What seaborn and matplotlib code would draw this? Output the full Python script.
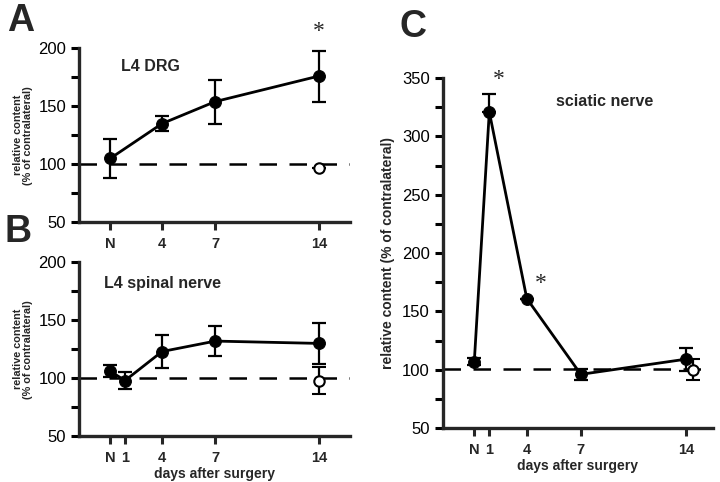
import numpy as np
import matplotlib
matplotlib.use("Agg")
import matplotlib.pyplot as plt
from matplotlib.ticker import MultipleLocator
import seaborn as sns

# Dữ liệu
day_labels = ["N", "1", "4", "7", "14"]
day_pos = [-0.1, 0.9, 3.4, 7, 14]

drg_days = ["N", "4", "7", "14"]
drg_mean = [105, 135, 154, 176]
drg_err_low = [17, 6.5, 19, 22]
drg_err_high = [17, 6.5, 19, 22]
drg_ctrl_mean = [97]
drg_ctrl_err = [0]

spinal_days = ["N", "1", "4", "7", "14"]
spinal_mean = [106, 98, 123, 132, 130]
spinal_err_low = [5, 7, 14, 13, 18]
spinal_err_high = [5, 7, 14, 13, 18]
spinal_ctrl_mean = [98]
spinal_ctrl_err = [12]

sciatic_days = ["N", "1", "4", "7", "14"]
sciatic_mean = [107, 321, 161, 96, 109]
sciatic_err_low = [3, 0, 0, 5, 10]
sciatic_err_high = [3, 15, 0, 5, 10]
sciatic_ctrl_mean = [100]
sciatic_ctrl_err = [9]

sns.set_style("ticks")
plt.rcParams['font.family'] = ['Liberation Sans', 'DejaVu Sans']

pos_map = dict(zip(day_labels, day_pos))


def draw_panel(ax, days, mean, err_low, err_high, ctrl_mean, ctrl_err, ctrl_shift,
               ylim, ref_level):
    """Vẽ một panel: đường nối điểm đặc, thanh sai số và điểm đối chứng rỗng."""
    x = [pos_map[d] for d in days]
    ax.axhline(ref_level, color='black', lw=1.8, ls=(0, (7, 5)), zorder=1)
    ax.errorbar(x, mean, yerr=[err_low, err_high], fmt='none', ecolor='black',
                elinewidth=1.6, capsize=5, capthick=1.6, zorder=2)
    sns.lineplot(x=x, y=mean, ax=ax, color='black', lw=2, marker='o', markersize=8.5,
                 markeredgecolor='black', zorder=3)
    xc = [pos_map["14"] + ctrl_shift]
    ax.errorbar(xc, ctrl_mean, yerr=ctrl_err, fmt='o', color='black', mfc='white',
                mec='black', mew=1.5, markersize=7.5, elinewidth=1.6, capsize=5,
                capthick=1.6, zorder=4)

    ax.set_ylim(*ylim)
    ax.yaxis.set_major_locator(MultipleLocator(50))
    ax.yaxis.set_minor_locator(MultipleLocator(25))
    ax.set_xticks(x)
    ax.set_xticklabels(days, fontweight='bold', fontsize=10.5)
    for s in ['top', 'right']:
        ax.spines[s].set_visible(False)
    for s in ['left', 'bottom']:
        ax.spines[s].set_linewidth(2.4)
    ax.tick_params(axis='y', which='both', direction='out', length=6, width=2.2,
                   labelsize=12, colors='black')
    ax.tick_params(axis='x', direction='out', length=6, width=2.2, pad=5)


fig = plt.figure(figsize=(7.2, 4.82), dpi=100)

# Panel A
axA = fig.add_axes([0.110, 0.539, 0.376, 0.361])
draw_panel(axA, drg_days, drg_mean, drg_err_low, drg_err_high, drg_ctrl_mean,
           drg_ctrl_err, 0, (50, 200), 100)
axA.set_xlim(-2.2, 16.1)
axA.set_ylabel('relative content\n(% of contralateral)', fontsize=7.8, fontweight='bold',
               linespacing=1.0, labelpad=4)
axA.text(0.155, 0.87, 'L4 DRG', transform=axA.transAxes, fontsize=11.5, fontweight='bold')
axA.text(14, 205, '*', ha='center', va='bottom', fontsize=17, clip_on=False,
         family='Liberation Serif')

# Panel B
axB = fig.add_axes([0.110, 0.095, 0.376, 0.361])
draw_panel(axB, spinal_days, spinal_mean, spinal_err_low, spinal_err_high,
           spinal_ctrl_mean, spinal_ctrl_err, 0, (50, 200), 100)
axB.set_xlim(-2.2, 16.1)
axB.set_ylabel('relative content\n(% of contralateral)', fontsize=7.8, fontweight='bold',
               linespacing=1.0, labelpad=4)
axB.set_xlabel('days after surgery', fontsize=10, fontweight='bold', labelpad=1)
axB.text(0.09, 0.85, 'L4 spinal nerve', transform=axB.transAxes, fontsize=11.5,
         fontweight='bold')

# Panel C
axC = fig.add_axes([0.615, 0.112, 0.375, 0.726])
draw_panel(axC, sciatic_days, sciatic_mean, sciatic_err_low, sciatic_err_high,
           sciatic_ctrl_mean, sciatic_ctrl_err, 0.5, (50, 350), 101)
axC.set_xlim(-2.2, 15.8)
axC.set_ylabel('relative content (% of contralateral)', fontsize=10, fontweight='bold',
               labelpad=5)
axC.set_xlabel('days after surgery', fontsize=10, fontweight='bold', labelpad=1)
axC.text(0.42, 0.92, 'sciatic nerve', transform=axC.transAxes, fontsize=11.5,
         fontweight='bold')
axC.text(pos_map["1"] + 0.6, 340, '*', ha='center', va='bottom', fontsize=17, clip_on=False,
         family='Liberation Serif')
axC.text(pos_map["4"] + 0.9, 165, '*', ha='center', va='bottom', fontsize=17,
         family='Liberation Serif')

# Nhãn panel
fig.text(0.010, 0.956, 'A', fontsize=27, fontweight='bold', va='center')
fig.text(0.006, 0.518, 'B', fontsize=27, fontweight='bold', va='center')
fig.text(0.555, 0.944, 'C', fontsize=27, fontweight='bold', va='center')

plt.savefig('out.png', dpi=100)
